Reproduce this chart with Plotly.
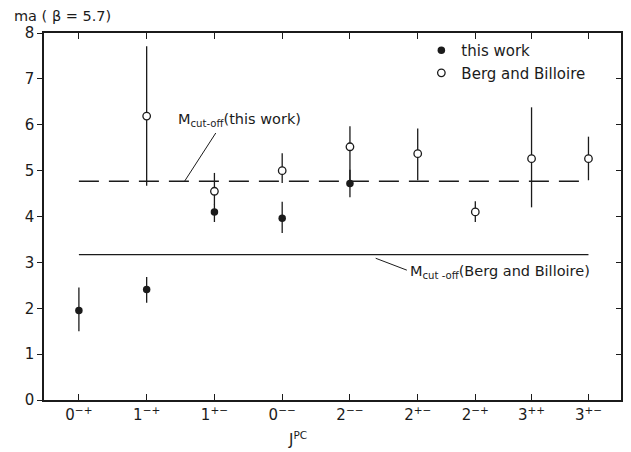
import plotly.graph_objects as go

# J^PC channels along the horizontal axis
channels = ["0<sup>−+</sup>", "1<sup>−+</sup>", "1<sup>+−</sup>", "0<sup>−−</sup>", "2<sup>−−</sup>",
            "2<sup>+−</sup>", "2<sup>−+</sup>", "3<sup>++</sup>", "3<sup>+−</sup>"]
# axis placement of each channel (the last three are set closer together)
channel_pos = [0, 1, 2, 3, 4, 5, 5.85, 6.68, 7.52]

# masses, this work (first five channels)
this_work = [1.95, 2.41, 4.10, 3.96, 4.72, None, None, None, None]
this_work_up = [0.50, 0.27, 0.16, 0.36, 0.30, 0, 0, 0, 0]
this_work_dn = [0.45, 0.29, 0.22, 0.32, 0.30, 0, 0, 0, 0]

# masses, Berg and Billoire
berg = [None, 6.19, 4.55, 5.00, 5.52, 5.37, 4.10, 5.26, 5.26]
berg_up = [0, 1.52, 0.40, 0.38, 0.45, 0.55, 0.23, 1.12, 0.48]
berg_dn = [0, 1.52, 0.30, 0.27, 0.80, 0.58, 0.22, 1.06, 0.47]

# mass cut-offs
cut_this_work = 4.77
cut_berg = 3.17

INK = "#1b1b1b"
FONT = "DejaVu Sans"

fig = go.Figure()

# cut-off levels, spanning the first to the last channel
fig.add_trace(go.Scatter(
    x=[channel_pos[0], channel_pos[-1]], y=[cut_this_work, cut_this_work],
    mode="lines", line=dict(color=INK, width=1.4, dash="20px,10px"),
    showlegend=False, hoverinfo="skip"))
fig.add_trace(go.Scatter(
    x=[channel_pos[0], channel_pos[-1]], y=[cut_berg, cut_berg],
    mode="lines", line=dict(color=INK, width=1.4),
    showlegend=False, hoverinfo="skip"))

fig.add_trace(go.Scatter(
    x=channel_pos, y=this_work, mode="markers", name="this work",
    marker=dict(symbol="circle", size=7.5, color=INK),
    error_y=dict(type="data", symmetric=False, array=this_work_up,
                 arrayminus=this_work_dn, width=0, thickness=1.3, color=INK)))
fig.add_trace(go.Scatter(
    x=channel_pos, y=berg, mode="markers", name="Berg and Billoire",
    marker=dict(symbol="circle", size=7.5, color="white", line=dict(color=INK, width=1.3)),
    error_y=dict(type="data", symmetric=False, array=berg_up,
                 arrayminus=berg_dn, width=0, thickness=1.3, color=INK)))

# carrier for the right-hand tick marks
fig.add_trace(go.Scatter(x=[None], y=[None], yaxis="y2", showlegend=False, hoverinfo="skip"))

ann_font = dict(family=FONT, size=14.5, color=INK)
fig.add_annotation(x=1.43, y=6.1, xref="x", yref="y", xanchor="left", yanchor="middle",
                   text="M<sub>cut-off</sub>(this work)", showarrow=False, font=ann_font)
fig.add_annotation(x=4.86, y=2.78, xref="x", yref="y", xanchor="left", yanchor="middle",
                   text="M<sub>cut -off</sub>(Berg and Billoire)", showarrow=False, font=ann_font)
# leader lines from the labels to their cut-off levels
fig.add_shape(type="line", xref="x", yref="y", x0=2.02, y0=5.82, x1=1.56, y1=cut_this_work,
              line=dict(color=INK, width=1))
fig.add_shape(type="line", xref="x", yref="y", x0=4.38, y0=cut_berg - 0.08, x1=4.84, y1=2.83,
              line=dict(color=INK, width=1))

fig.add_annotation(x=-0.055, y=1.045, xref="paper", yref="paper", xanchor="left", yanchor="middle",
                   text="ma ( β = 5.7)", showarrow=False,
                   font=dict(family=FONT, size=14.5, color=INK))
fig.add_annotation(x=0.44, y=-0.105, xref="paper", yref="paper", xanchor="center", yanchor="middle",
                   text="J<sup>PC</sup>", showarrow=False,
                   font=dict(family=FONT, size=15, color=INK))

fig.update_layout(
    width=631, height=452,
    margin=dict(l=44, r=8, t=33, b=52),
    paper_bgcolor="white", plot_bgcolor="white",
    font=dict(family=FONT, size=15, color=INK),
    legend=dict(x=0.654, y=0.997, xanchor="left", yanchor="top",
                bgcolor="rgba(0,0,0,0)", font=dict(family=FONT, size=15, color=INK),
                tracegroupgap=0),
    xaxis=dict(range=[-0.515, 8.0], tickvals=channel_pos, ticktext=channels,
               ticks="inside", ticklen=6, tickwidth=1.2, tickcolor=INK,
               showline=True, linecolor=INK, linewidth=1.6, mirror="ticks",
               showgrid=False, zeroline=False, tickfont=dict(family=FONT, size=15, color=INK)),
    yaxis=dict(range=[0, 8], dtick=1, ticks="outside", ticklen=5, tickwidth=1.2, tickcolor=INK,
               showline=True, linecolor=INK, linewidth=1.6, mirror=True,
               showgrid=False, zeroline=False, tickfont=dict(family=FONT, size=15, color=INK)),
    yaxis2=dict(range=[0, 8], dtick=1, overlaying="y", side="right", ticks="inside",
                ticklen=5, tickwidth=1.2, tickcolor=INK, showticklabels=False,
                showline=False, showgrid=False, zeroline=False),
    showlegend=True,
)

fig.write_html("out.html")
